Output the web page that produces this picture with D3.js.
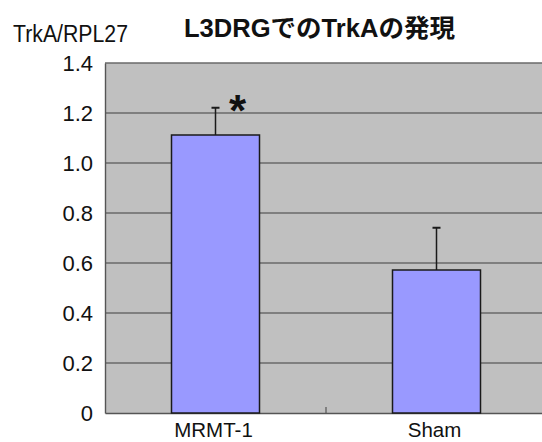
<!DOCTYPE html>
<html>
<head>
<meta charset="utf-8">
<script src="https://cdn.jsdelivr.net/npm/d3@7"></script>
<style>
  html, body { margin: 0; padding: 0; background: #fff; }
  svg { display: block; }
  text { font-family: "Liberation Sans", Arial, sans-serif; fill: #111; }
</style>
</head>
<body>
<svg id="chart" width="542" height="442"></svg>
<script>
// Expression of TrkA in L3 DRG, normalised to RPL27
const categories = ["MRMT-1", "Sham"];
const means = [1.112, 0.572];
const errors = [0.109, 0.169];
const significance = ["*", ""];
const yTicks = [0, 0.2, 0.4, 0.6, 0.8, 1.0, 1.2, 1.4];
const yTickLabels = ["0", "0.2", "0.4", "0.6", "0.8", "1.0", "1.2", "1.4"];

const svg = d3.select("#chart");
const margin = { left: 105, top: 63, right: -5, bottom: 29 };
const W = 542, H = 442;
const plotW = W - margin.left - margin.right;
const plotH = H - margin.top - margin.bottom;

const x = d3.scaleBand().domain(categories).range([0, plotW]).paddingInner(0).paddingOuter(0);
const y = d3.scaleLinear().domain([0, 1.4]).range([plotH, 0]);

const g = svg.append("g").attr("transform", `translate(${margin.left},${margin.top})`);

// plot background
g.append("rect").attr("x", 0).attr("y", 0).attr("width", plotW).attr("height", plotH)
  .attr("fill", "#c0c0c0");

// horizontal gridlines
g.append("g").selectAll("line").data(yTicks.filter(d => d > 0)).join("line")
  .attr("x1", 0).attr("x2", plotW)
  .attr("y1", d => y(d)).attr("y2", d => y(d))
  .attr("stroke", "#6a6a6a").attr("stroke-width", 1.4);

// y axis
const yAxis = g.append("g").call(
  d3.axisLeft(y).tickValues(yTicks).tickFormat((d, i) => yTickLabels[i]).tickSize(0).tickPadding(12)
);
yAxis.select(".domain").attr("stroke", "#555").attr("stroke-width", 1.4);
yAxis.selectAll("text").attr("font-size", 22).attr("fill", "#111").attr("dy", "0.34em");

// x axis
const xAxis = g.append("g").attr("transform", `translate(0,${plotH})`).call(
  d3.axisBottom(x).tickSize(0).tickPadding(0)
);
xAxis.select(".domain").attr("stroke", "#555").attr("stroke-width", 1.4);
xAxis.selectAll("text").attr("font-size", 20.5).attr("fill", "#111")
  .attr("dy", null).attr("y", 24).attr("dx", -2);
// category divider tick
xAxis.append("line")
  .attr("x1", x.bandwidth()).attr("x2", x.bandwidth())
  .attr("y1", 0).attr("y2", -6)
  .attr("stroke", "#555").attr("stroke-width", 1.2);

// bars
const barW = 88;
g.append("g").selectAll("rect").data(categories).join("rect")
  .attr("x", d => x(d) + x.bandwidth() / 2 - barW / 2)
  .attr("y", (d, i) => y(means[i]))
  .attr("width", barW)
  .attr("height", (d, i) => plotH - y(means[i]))
  .attr("fill", "#9999ff")
  .attr("stroke", "#1a1a1a").attr("stroke-width", 1.5);

// upper error bars
const eb = g.append("g").selectAll("g").data(categories).join("g");
eb.append("line")
  .attr("x1", d => x(d) + x.bandwidth() / 2).attr("x2", d => x(d) + x.bandwidth() / 2)
  .attr("y1", (d, i) => y(means[i])).attr("y2", (d, i) => y(means[i] + errors[i]))
  .attr("stroke", "#1a1a1a").attr("stroke-width", 1.5);
eb.append("line")
  .attr("x1", d => x(d) + x.bandwidth() / 2 - 4).attr("x2", d => x(d) + x.bandwidth() / 2 + 4)
  .attr("y1", (d, i) => y(means[i] + errors[i])).attr("y2", (d, i) => y(means[i] + errors[i]))
  .attr("stroke", "#1a1a1a").attr("stroke-width", 2);

// significance marks
g.append("g").selectAll("text").data(categories).join("text")
  .attr("x", d => x(d) + x.bandwidth() / 2 + 22)
  .attr("y", (d, i) => y(means[i] + errors[i]) + 18)
  .attr("text-anchor", "middle")
  .attr("font-size", 44).attr("font-weight", "bold")
  .text((d, i) => significance[i]);

// titles
svg.append("text").attr("x", 13).attr("y", 42)
  .attr("font-size", 23)
  .attr("textLength", 115).attr("lengthAdjust", "spacingAndGlyphs")
  .text("TrkA/RPL27");
svg.append("text").attr("x", 184).attr("y", 37)
  .attr("font-size", 25).attr("font-weight", "bold")
  .attr("textLength", 271).attr("lengthAdjust", "spacingAndGlyphs")
  .style("font-family", "'Liberation Sans', 'Noto Sans CJK JP', sans-serif")
  .text("L3DRGでのTrkAの発現");
</script>
</body>
</html>
